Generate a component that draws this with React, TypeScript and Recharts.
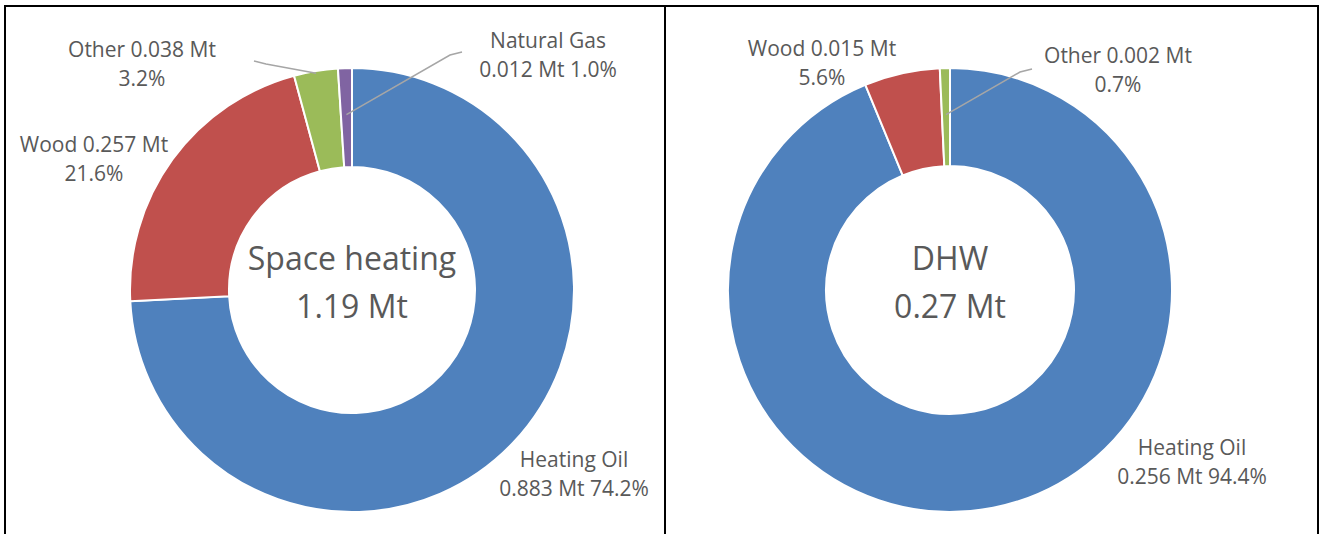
import { PieChart, Pie, Cell } from "recharts"

const spaceNames = ["Heating Oil", "Wood", "Other", "Natural Gas"]
const spaceValues = [0.883, 0.257, 0.038, 0.012]
const spacePercents = ["74.2%", "21.6%", "3.2%", "1.0%"]

const dhwNames = ["Heating Oil", "Wood", "Other"]
const dhwValues = [0.256, 0.015, 0.002]
const dhwPercents = ["94.4%", "5.6%", "0.7%"]

const colors = ["#4f81bd", "#c0504d", "#9bbb59", "#8064a2"]
const textColor = "#595959"
const leaderColor = "#a6a6a6"
const font = "'Open Sans', sans-serif"

// label placement relative to the pie centre (first line baseline), two lines each
type LabelSpot = {
  dx: number
  dy: number
  lines: (name: string, mt: string, pct: string) => [string, string]
  leader?: { sx: number; sy: number; r: number }
}

const twoLine = (name: string, mt: string, pct: string): [string, string] => [
  `${name} ${mt} Mt`,
  pct,
]
const nameFirst = (name: string, mt: string, pct: string): [string, string] => [
  name,
  `${mt} Mt ${pct}`,
]

const spaceSpots: LabelSpot[] = [
  { dx: 222, dy: 177, lines: nameFirst },
  { dx: -258, dy: -138, lines: twoLine },
  { dx: -210, dy: -233, lines: twoLine, leader: { sx: 112, sy: 4, r: 0.99 } },
  { dx: 196, dy: -242, lines: nameFirst, leader: { sx: -86, sy: 4, r: 0.79 } },
]

const dhwSpots: LabelSpot[] = [
  { dx: 242, dy: 165, lines: nameFirst },
  { dx: -128, dy: -234, lines: twoLine },
  { dx: 168, dy: -227, lines: twoLine, leader: { sx: -86, sy: 6, r: 0.79 } },
]

const RAD = Math.PI / 180

function makeLabel(spots: LabelSpot[], percents: string[], title: string, total: string) {
  return (props: any) => {
    const { cx, cy, midAngle, outerRadius, index, name, value } = props
    const spot = spots[index]
    const x = cx + spot.dx
    const y = cy + spot.dy
    const [l1, l2] = spot.lines(name, value.toFixed(3), percents[index])
    let leader = null
    if (spot.leader) {
      const sx = x + spot.leader.sx
      const sy = y + spot.leader.sy
      const ex = cx + outerRadius * spot.leader.r * Math.cos(-midAngle * RAD)
      const ey = cy + outerRadius * spot.leader.r * Math.sin(-midAngle * RAD)
      const bend = spot.leader.sx > 0 ? 12 : -12
      leader = (
        <path
          d={`M${sx},${sy} L${sx + bend},${sy + 3} L${ex},${ey}`}
          stroke={leaderColor}
          strokeWidth={1.5}
          fill="none"
        />
      )
    }
    return (
      <g>
        {leader}
        <text x={x} y={y} textAnchor="middle" fill={textColor} fontSize={21} fontFamily={font}>
          {l1}
        </text>
        <text x={x} y={y + 29} textAnchor="middle" fill={textColor} fontSize={21} fontFamily={font}>
          {l2}
        </text>
        {index === 0 && (
          <g>
            <text x={cx} y={cy - 20} textAnchor="middle" fill={textColor} fontSize={32} fontFamily={font}>
              {title}
            </text>
            <text x={cx} y={cy + 28} textAnchor="middle" fill={textColor} fontSize={32} fontFamily={font}>
              {total}
            </text>
          </g>
        )}
      </g>
    )
  }
}

const spaceData = spaceNames.map((name, i) => ({ name, value: spaceValues[i] }))
const dhwData = dhwNames.map((name, i) => ({ name, value: dhwValues[i] }))

export default function App() {
  return (
    <div style={{ position: "absolute", left: 0, top: 0, width: 1321, height: 534, background: "#fff" }}>
      <PieChart width={1321} height={534} margin={{ top: 0, right: 0, bottom: 0, left: 0 }}>
        <Pie
          data={spaceData}
          dataKey="value"
          nameKey="name"
          cx={352}
          cy={290}
          innerRadius={123}
          outerRadius={222}
          startAngle={90}
          endAngle={-270}
          stroke="#fff"
          strokeWidth={2}
          label={makeLabel(spaceSpots, spacePercents, "Space heating", "1.19 Mt")}
          labelLine={false}
          isAnimationActive={false}
        >
          {spaceData.map((d, i) => (
            <Cell key={d.name} fill={colors[i]} />
          ))}
        </Pie>
        <Pie
          data={dhwData}
          dataKey="value"
          nameKey="name"
          cx={950}
          cy={290}
          innerRadius={124}
          outerRadius={222}
          startAngle={90}
          endAngle={-270}
          stroke="#fff"
          strokeWidth={2}
          label={makeLabel(dhwSpots, dhwPercents, "DHW", "0.27 Mt")}
          labelLine={false}
          isAnimationActive={false}
        >
          {dhwData.map((d, i) => (
            <Cell key={d.name} fill={colors[i]} />
          ))}
        </Pie>
      </PieChart>
      <div
        style={{
          position: "absolute",
          left: 4,
          top: 5,
          width: 1311,
          height: 540,
          borderTop: "2px solid #000",
          borderLeft: "2px solid #000",
          borderRight: "2px solid #000",
          pointerEvents: "none",
        }}
      />
      <div
        style={{ position: "absolute", left: 664, top: 5, width: 2, height: 529, background: "#000" }}
      />
    </div>
  )
}
